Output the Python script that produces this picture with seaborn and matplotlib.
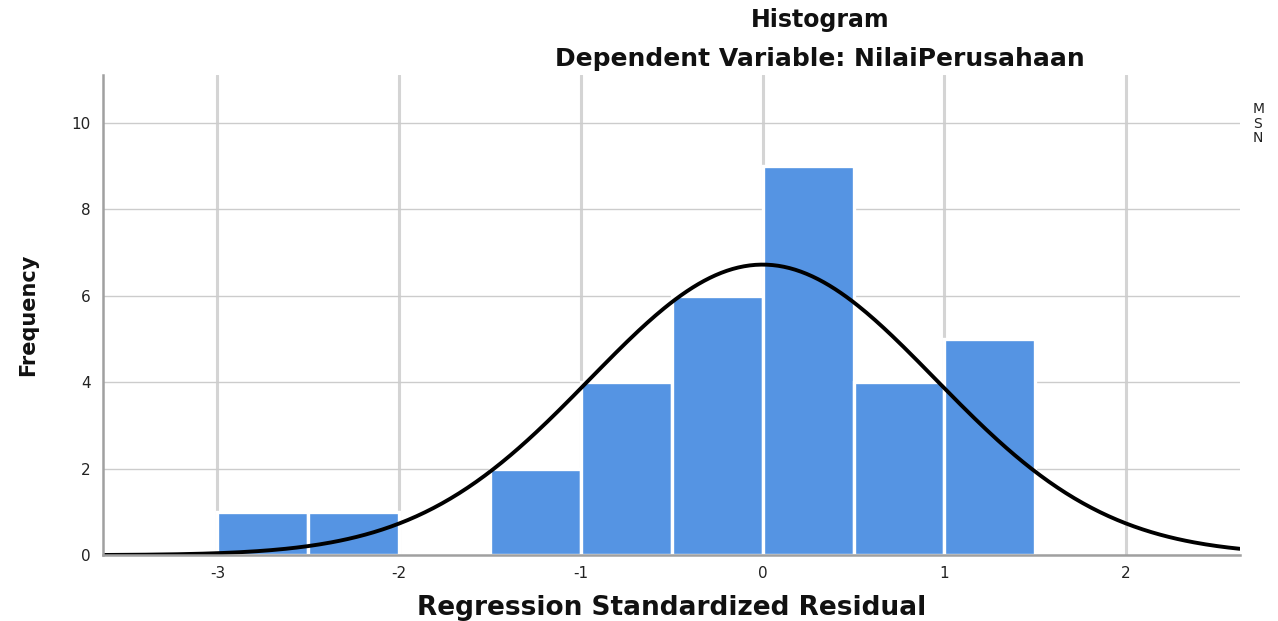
import numpy as np
import matplotlib
matplotlib.use("Agg")
import matplotlib.pyplot as plt
import seaborn as sns

sns.set_theme(style="whitegrid")
plt.rcParams['font.family'] = ['DejaVu Sans']

# Histogram bins (width 0.5) and counts
bin_edges = [-3.0, -2.5, -2.0, -1.5, -1.0, -0.5, 0.0, 0.5, 1.0, 1.5]
counts = [1, 1, 0, 2, 4, 6, 9, 4, 5]
bin_centers = [(a + b) / 2 for a, b in zip(bin_edges[:-1], bin_edges[1:])]

# Normal curve stats (SPSS legend, clipped at the right edge in the original)
MEAN = 0.0
STD = 0.950
N = 32
legend_lines = ["M", "S", "N"]

x_ticks = [-3, -2, -1, 0, 1, 2]
y_ticks = [0, 2, 4, 6, 8, 10]

fig = plt.figure(figsize=(12.78, 6.21), dpi=100)
ax = fig.add_axes([0.0806, 0.106, 0.8894, 0.773])

sns.histplot(x=bin_centers, weights=counts, bins=bin_edges, ax=ax,
             color='#5594e3', alpha=1, edgecolor='white', linewidth=2.4)

# fitted normal curve
xs = np.linspace(-3.63, 2.625, 400)
bw = bin_edges[1] - bin_edges[0]
ys = N * bw / (STD * np.sqrt(2 * np.pi)) * np.exp(-0.5 * ((xs - MEAN) / STD) ** 2)
sns.lineplot(x=xs, y=ys, ax=ax, color='black', linewidth=2.8)

ax.set_xlim(-3.63, 2.625)
ax.set_ylim(0, 11.1)
ax.set_xticks(x_ticks)
ax.set_xticklabels([str(t) for t in x_ticks])
ax.set_yticks(y_ticks)
ax.set_yticklabels([str(t) for t in y_ticks])
ax.tick_params(axis='both', length=0, labelsize=11, colors='#222222')
ax.tick_params(axis='x', pad=8)
ax.tick_params(axis='y', pad=9)

ax.xaxis.grid(True, color='#d4d4d4', linewidth=2.2)
ax.yaxis.grid(True, color='#cccccc', linewidth=1.0)
ax.set_axisbelow(True)

for s in ['top', 'right']:
    ax.spines[s].set_visible(False)
ax.spines['left'].set_color('#a0a0a0')
ax.spines['left'].set_linewidth(1.8)
ax.spines['bottom'].set_color('#a0a0a0')
ax.spines['bottom'].set_linewidth(1.8)

ax.set_xlabel('Regression Standardized Residual', fontsize=19, fontweight='bold', color='#111111')
ax.xaxis.set_label_coords(0.5, -0.083)
ax.set_ylabel('Frequency', fontsize=15, fontweight='bold', color='#111111')
ax.yaxis.set_label_coords(-0.057, 0.5)

fig.text(0.6416, 1 - 20 / 621, 'Histogram', ha='center', va='center',
         fontsize=17, fontweight='bold', color='#111111')
fig.text(0.6416, 1 - 59 / 621, 'Dependent Variable: NilaiPerusahaan', ha='center', va='center',
         fontsize=18, fontweight='bold', color='#111111')

for i, line in enumerate(legend_lines):
    fig.text(1253 / 1278, 1 - (109 + 14.5 * i) / 621, line, ha='left', va='center',
             fontsize=10, color='#222222')

plt.savefig('out.png', dpi=100)
